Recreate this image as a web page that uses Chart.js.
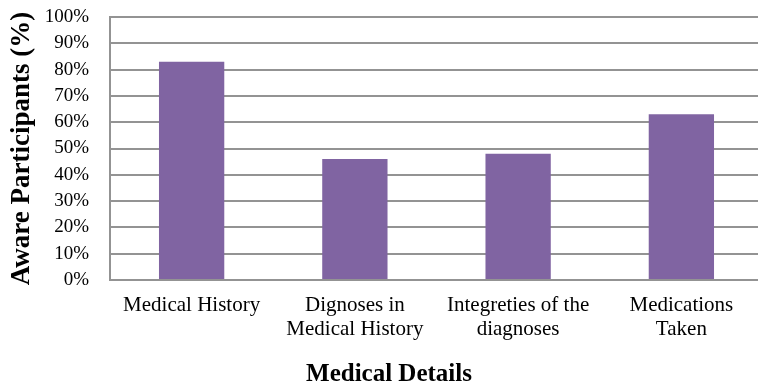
<!DOCTYPE html>
<html>
<head>
<meta charset="utf-8">
<script src="https://cdn.jsdelivr.net/npm/chart.js@4/dist/chart.umd.min.js"></script>
<style>
  html, body { margin: 0; padding: 0; background: #ffffff; overflow: hidden; }
  #wrap { width: 758px; height: 384px; overflow: hidden; }
</style>
</head>
<body>
<div id="wrap"><canvas id="c" width="765" height="384"></canvas></div>
<script>
// Share of participants aware of each kind of medical detail
const categories = [
  'Medical History',
  ['Dignoses in', 'Medical History'],
  ['Integreties of the', 'diagnoses'],
  ['Medications', 'Taken']
];
const awarePercent = [83, 46, 48, 63];
const yTicks = [0, 10, 20, 30, 40, 50, 60, 70, 80, 90, 100];

const SERIF = '"Liberation Serif", "Times New Roman", serif';
const GRID = '#939393';

new Chart(document.getElementById('c'), {
  type: 'bar',
  data: {
    labels: categories,
    datasets: [{
      data: awarePercent,
      backgroundColor: '#8064A2',
      borderWidth: 0,
      barPercentage: 0.4,
      categoryPercentage: 1.0
    }]
  },
  options: {
    responsive: false,
    animation: false,
    layout: { padding: { left: 15, right: 2, top: 17, bottom: 0 } },
    plugins: {
      legend: { display: false },
      tooltip: { enabled: false },
      subtitle: {
        display: true,
        position: 'bottom',
        text: 'Medical Details',
        color: '#000000',
        font: { family: SERIF, size: 25, weight: 'bold', lineHeight: 0.75 },
        padding: { top: 0, bottom: 0 }
      }
    },
    scales: {
      x: {
        grid: { display: false, drawTicks: false },
        border: { display: true, color: GRID, width: 2 },
        ticks: {
          color: '#000000',
          padding: 13,
          maxRotation: 0,
          autoSkip: false,
          font: { family: SERIF, size: 21, lineHeight: 1.167 }
        },
        afterFit: (scale) => {
          scale.height = 384 - 280 - 18.75;
          scale.paddingLeft = 0;
          scale.paddingRight = 0;
        }
      },
      y: {
        min: 0,
        max: 100,
        afterBuildTicks: (scale) => { scale.ticks = yTicks.map(v => ({ value: v })); },
        grid: { color: GRID, lineWidth: 2, drawTicks: false },
        border: { display: true, color: GRID, width: 2 },
        ticks: {
          color: '#000000',
          padding: 21,
          font: { family: SERIF, size: 19 },
          callback: (v) => v + '%'
        },
        title: {
          display: true,
          text: 'Aware Participants (%)',
          color: '#000000',
          font: { family: SERIF, size: 27, weight: 'bold', lineHeight: 1 },
          padding: { top: -6, bottom: 0 }
        },
        afterFit: (scale) => {
          scale.width = 95;
          scale.paddingTop = 0;
          scale.paddingBottom = 0;
        }
      }
    }
  }
});
</script>
</body>
</html>
